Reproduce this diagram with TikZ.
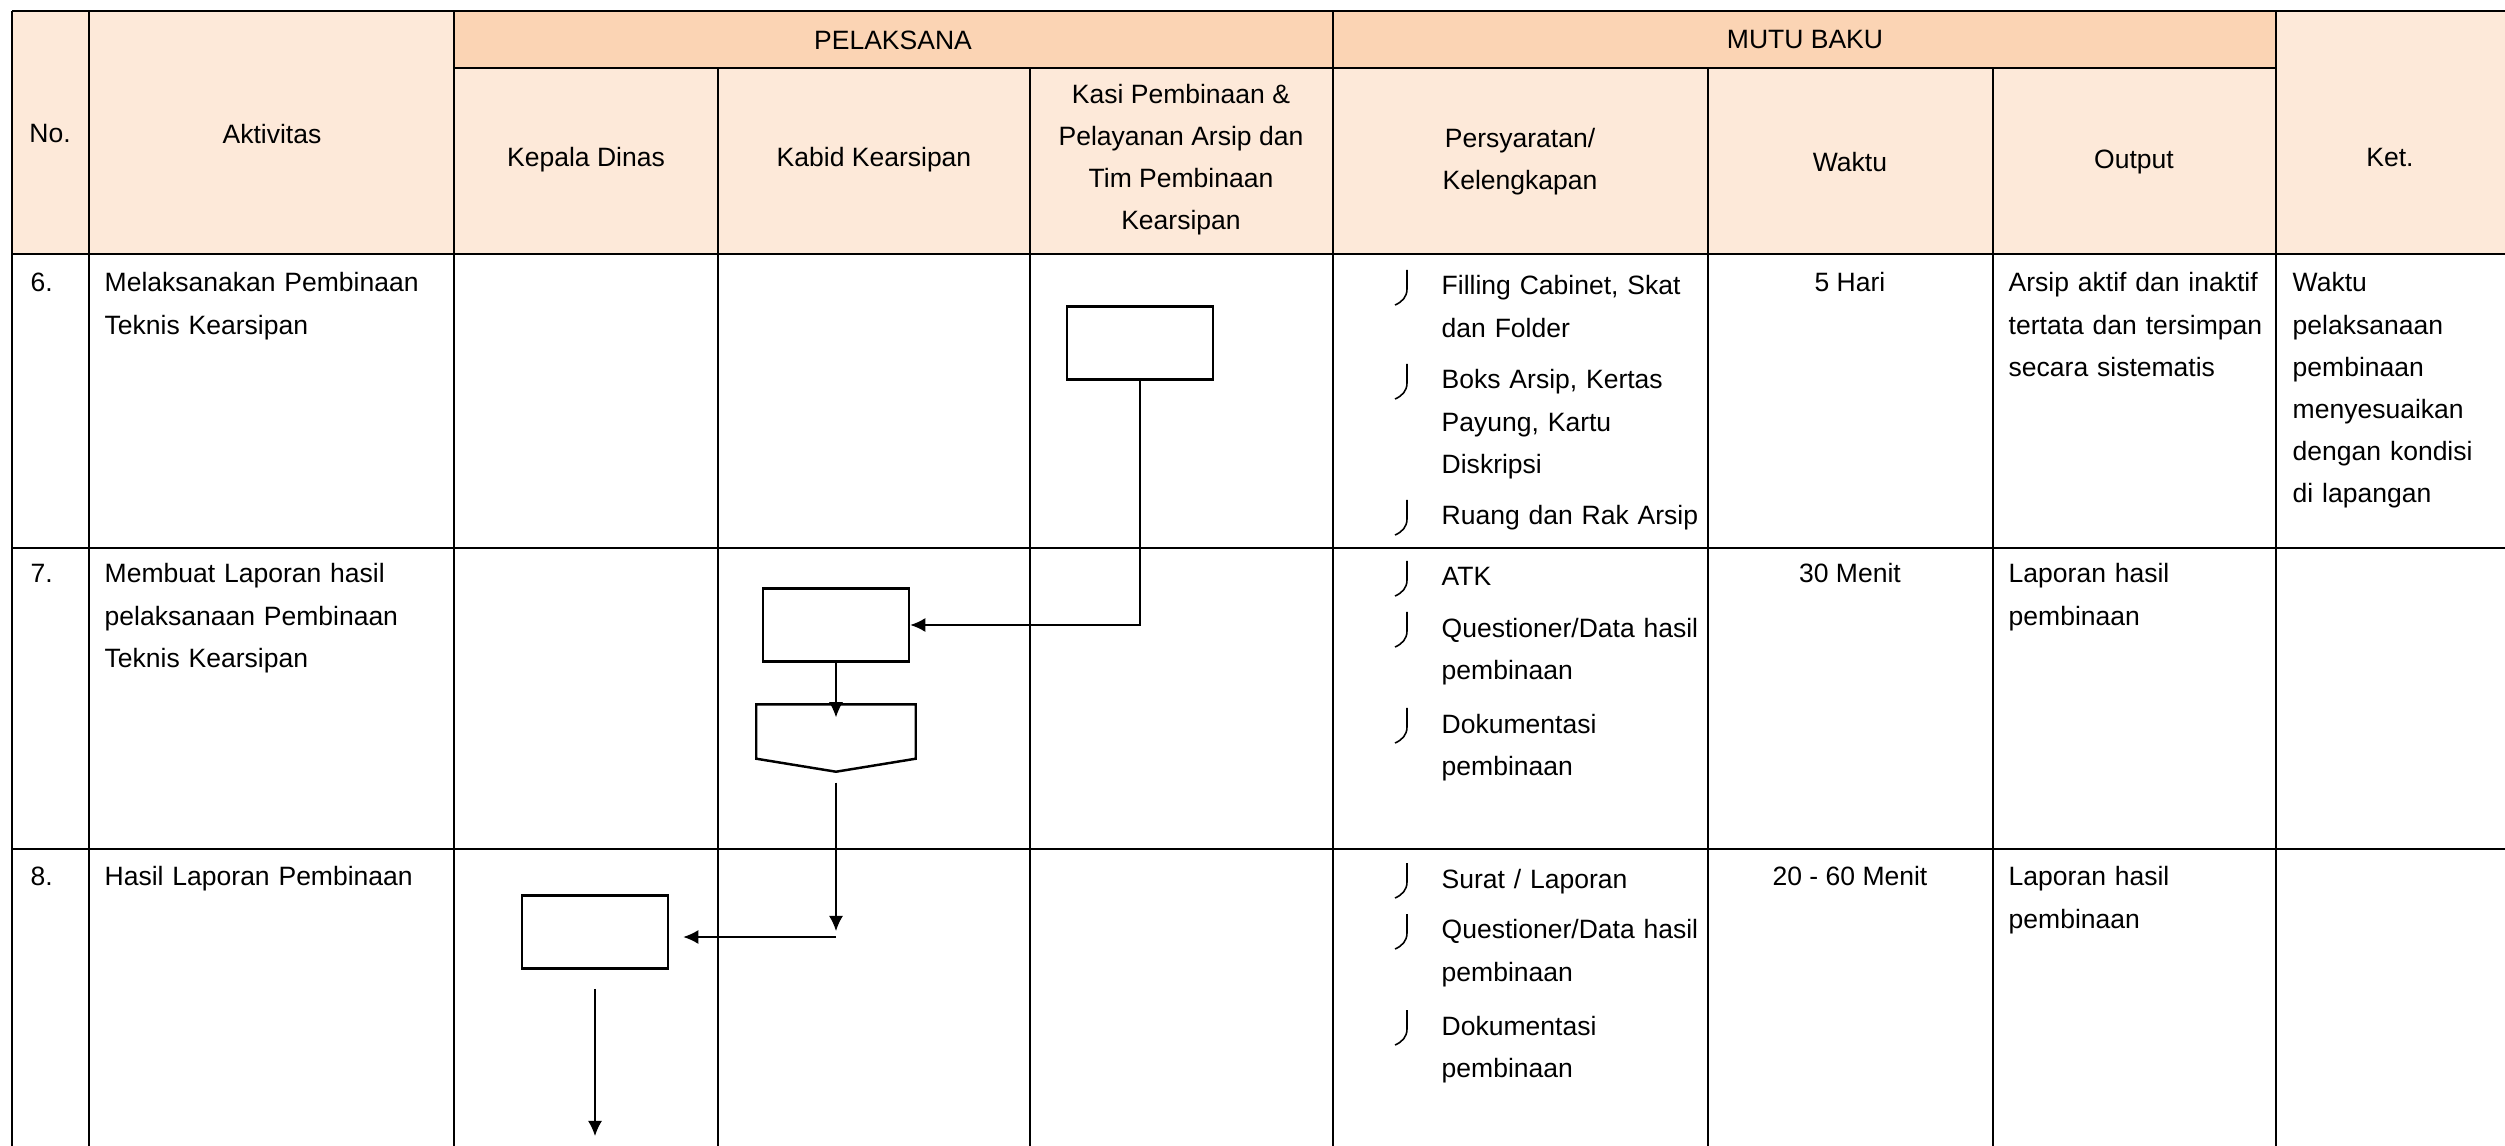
\documentclass[tikz,border=0pt]{standalone}
\usepackage{fontspec}
\setmainfont{Liberation Sans}
\usetikzlibrary{arrows.meta}
\definecolor{pita}{HTML}{FBD4B4}
\definecolor{muda}{HTML}{FDE9D9}

\begin{document}
\begin{tikzpicture}[
x=0.01cm, y=-0.01cm,
font=\fontsize{7.54}{11.95}\selectfont,
tx/.style={anchor=base west, inner sep=0, align=left, text width=#1},
tx/.default=3.4cm,
hd/.style={inner sep=0, align=center},
wk/.style={anchor=base, inner sep=0}
]

\tikzstyle{kt} = [draw, line width=0.7pt, minimum width=1.46cm, minimum height=0.73cm, inner sep=0]
\tikzstyle{ar} = [line width=0.45pt, -{Latex[length=4.3pt,width=4pt]}]
\tikzstyle{gh} = [line width=0.7pt]
\tikzstyle{gv} = [line width=0.35pt]
\tikzstyle{bl} = [line width=0.45pt]

\useasboundingbox (0,0) rectangle (2505,1146);

% kepala tabel
\fill[muda] (12,11) rectangle (2505,254);
\fill[pita] (454,11) rectangle (2276,68);
\draw[gh] (12,11) -- (2505,11);
\draw[gh] (454,68) -- (2276,68);
\draw[gh] (12,254) -- (2505,254);
\draw[gh] (12,548) -- (2505,548);
\draw[gh] (12,849) -- (2505,849);
\foreach \x in {12,89,454,1333,2276} \draw[gv] (\x,11) -- (\x,1146);
\foreach \x in {718,1030,1708,1993} \draw[gv] (\x,68) -- (\x,1146);

\node[hd] (no) at (50,134) {No.};
\node[hd] (akt) at (272,134) {Aktivitas};
\node[hd] (pel) at (893,40) {PELAKSANA};
\node[hd] (mb) at (1805,40) {MUTU BAKU};
\node[hd] (kd) at (586,160) {Kepala Dinas};
\node[hd] (kb) at (874,160) {Kabid Kearsipan};
\node[hd] (ks) at (1181,160) {Kasi Pembinaan \&\\Pelayanan Arsip dan\\Tim Pembinaan\\Kearsipan};
\node[hd] (ps) at (1520,162) {Persyaratan/\\Kelengkapan};
\node[hd] (wkt) at (1850,162) {Waktu};
\node[hd] (op) at (2134,162) {Output};
\node[hd] (ket) at (2390,158) {Ket.};

% baris 6
\node[tx] (r6) at (30,292) {6.};
\node[tx] (a6) at (104,292) {Melaksanakan Pembinaan\\Teknis Kearsipan};
\node[tx=2.9cm] (p6a) at (1441,295) {Filling Cabinet, Skat\\dan Folder};
\node[tx=2.9cm] (p6b) at (1441,389) {Boks Arsip, Kertas\\Payung, Kartu\\Diskripsi};
\node[tx=2.9cm] (p6c) at (1441,525) {Ruang dan Rak Arsip};
\node[wk] (w6) at (1850,292) {5 Hari};
\node[tx=2.6cm] (o6) at (2008,292) {Arsip aktif dan inaktif\\tertata dan tersimpan\\secara sistematis};
\node[tx=2.1cm] (k6) at (2292,292) {Waktu\\pelaksanaan\\pembinaan\\menyesuaikan\\dengan kondisi\\di lapangan};

% baris 7
\node[tx] (r7) at (30,583) {7.};
\node[tx] (a7) at (104,583) {Membuat Laporan hasil\\pelaksanaan Pembinaan\\Teknis Kearsipan};
\node[tx=2.9cm] (p7a) at (1441,586) {ATK};
\node[tx=2.9cm] (p7b) at (1441,637) {Questioner/Data hasil\\pembinaan};
\node[tx=2.9cm] (p7c) at (1441,733) {Dokumentasi\\pembinaan};
\node[wk] (w7) at (1850,583) {30 Menit};
\node[tx=2.6cm] (o7) at (2008,583) {Laporan hasil\\pembinaan};

% baris 8
\node[tx] (r8) at (30,886) {8.};
\node[tx] (a8) at (104,886) {Hasil Laporan Pembinaan};
\node[tx=2.9cm] (p8a) at (1441,888) {Surat / Laporan};
\node[tx=2.9cm] (p8b) at (1441,939) {Questioner/Data hasil\\pembinaan};
\node[tx=2.9cm] (p8c) at (1441,1035) {Dokumentasi\\pembinaan};
\node[wk] (w8) at (1850,886) {20 - 60 Menit};
\node[tx=2.6cm] (o8) at (2008,886) {Laporan hasil\\pembinaan};

\foreach \b in {295,389,525,586,637,733,888,939,1035}
  \draw[bl] (1407,\b-25) -- (1407,\b-6) .. controls (1407,\b+2) and (1402,\b+7) .. (1395,\b+10);

% alur
\node[kt] (b1) at (1140,343) {};
\node[kt] (b2) at (836,625) {};
\node[kt] (b3) at (595,932) {};
\node[minimum width=1.58cm, minimum height=0.66cm, inner sep=0] (off) at (836,738) {};
\draw[line width=0.7pt] (off.north west) -- (off.north east) -- ([yshift=0.13cm]off.south east) -- (off.south) -- ([yshift=0.13cm]off.south west) -- cycle;

\coordinate (tn) at (836,931);
\coordinate (tm) at (836,937);
\coordinate (ujung) at (595,1136);

\draw[ar] (b1.south) |- (b2.east);
\draw[ar, shorten >=-0.13cm] (b2.south) -- (off.north);
\draw[ar, shorten <=0.11cm] (off.south) -- (tn);
\draw[ar, shorten >=0.14cm] (tm) -- (tm -| b3.east);
\draw[ar, shorten <=0.19cm] (b3.south) -- (ujung);
\end{tikzpicture}
\end{document}
